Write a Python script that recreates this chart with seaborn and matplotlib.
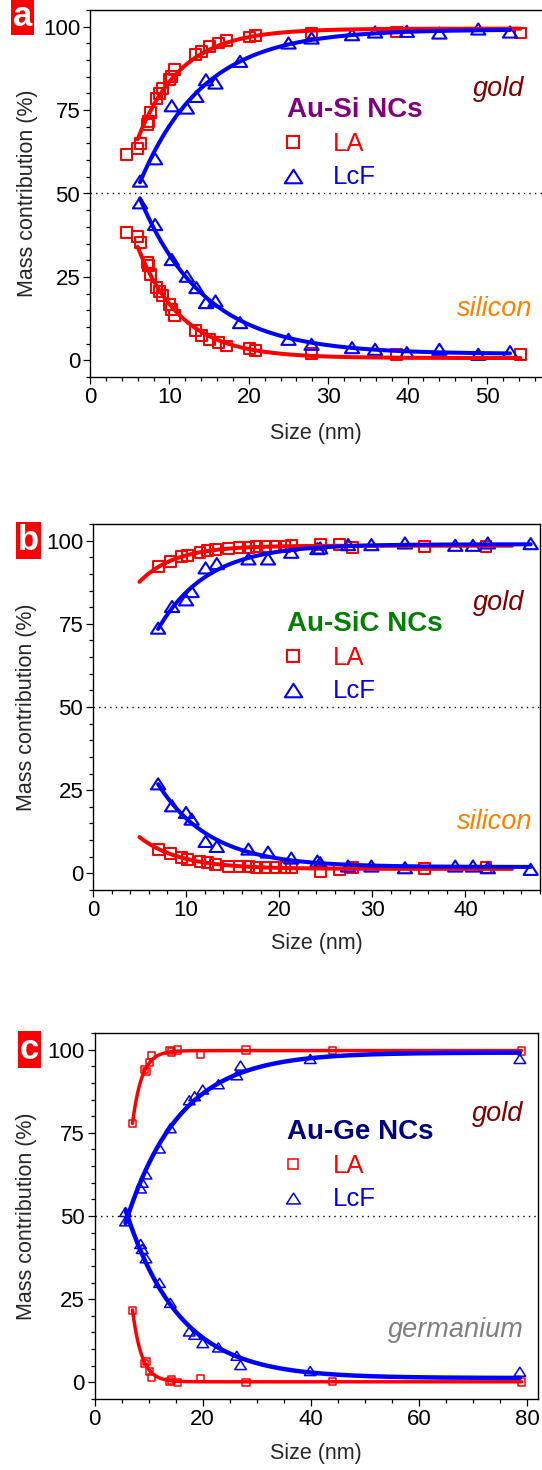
import numpy as np
import matplotlib
matplotlib.use("Agg")
import matplotlib.pyplot as plt
import seaborn as sns
from matplotlib.lines import Line2D
from matplotlib.path import Path
from matplotlib.ticker import MultipleLocator

# ---------------- data: Au-Si nanocrystals ----------------
si_la_size = [4.6, 6.0, 6.4, 7.2, 7.4, 7.6, 8.4, 8.8, 9.1, 10.0, 10.3, 10.7,
              13.3, 14.1, 15.0, 16.2, 17.2, 20.1, 20.8, 27.9, 38.6, 54.2]
si_la_gold = [61.7, 63.5, 65.0, 70.6, 71.6, 74.2, 78.6, 80.1, 81.6, 84.1, 85.1, 87.1,
              91.6, 92.6, 94.1, 95.1, 95.9, 96.9, 97.3, 98.1, 98.4, 98.1]
si_la_semi = [38.4, 37.2, 35.2, 29.4, 28.4, 25.7, 21.8, 20.5, 19.3, 16.8, 15.3, 13.3,
              8.8, 7.3, 6.1, 5.3, 4.3, 3.5, 3.0, 2.1, 1.8, 1.8]
si_lcf_size = [6.3, 8.2, 10.3, 12.2, 13.4, 14.6, 15.8, 18.9, 25.0, 27.9, 33.0, 35.9,
               39.9, 44.0, 48.9, 52.9]
si_lcf_gold = [53.7, 60.4, 76.3, 75.6, 79.1, 84.1, 83.1, 89.6, 95.1, 96.6, 97.6, 98.4,
               98.6, 98.1, 99.3, 98.4]
si_lcf_semi = [47.2, 40.7, 30.2, 25.2, 21.8, 17.3, 17.8, 11.3, 6.3, 4.8, 3.8, 3.3,
               2.3, 3.3, 1.8, 2.6]

# ---------------- data: Au-SiC nanocrystals ----------------
sic_la_size = [7.0, 8.3, 9.5, 10.2, 11.5, 12.3, 13.2, 14.6, 15.7, 16.7, 17.6, 18.5,
               19.6, 20.6, 21.3, 24.4, 26.5, 27.9, 35.6, 42.2]
sic_la_gold = [92.2, 93.8, 95.1, 95.5, 96.5, 97.0, 97.3, 97.6, 97.9, 98.0, 98.1, 98.3,
               98.3, 98.3, 98.4, 98.8, 98.8, 97.8, 98.3, 98.3]
sic_la_semi = [7.3, 5.9, 4.7, 4.2, 3.7, 3.2, 2.7, 2.2, 2.2, 2.2, 1.7, 1.7,
               1.7, 1.7, 1.7, 0.7, 1.2, 1.7, 1.5, 1.7]
sic_lcf_size = [7.0, 8.5, 10.0, 10.6, 12.1, 13.3, 16.7, 18.8, 21.3, 24.1, 24.4, 27.4,
                29.9, 33.5, 38.9, 40.8, 42.4, 47.0]
sic_lcf_gold = [73.7, 80.2, 82.2, 84.7, 91.8, 93.1, 94.5, 94.5, 96.5, 97.6, 97.8, 98.8,
                98.8, 99.3, 98.6, 98.6, 99.3, 99.1]
sic_lcf_semi = [26.9, 20.3, 18.3, 16.3, 9.6, 8.1, 7.3, 6.4, 4.6, 3.7, 3.2, 2.2,
                2.2, 1.7, 2.2, 2.2, 1.7, 1.2]

# ---------------- data: Au-Ge nanocrystals ----------------
ge_la_size = [7.0, 9.3, 9.6, 10.2, 10.5, 13.9, 14.3, 15.4, 19.5, 28.0, 44.0, 79.0]
ge_la_gold = [77.9, 94.0, 93.4, 96.2, 98.2, 99.7, 99.3, 99.9, 98.7, 99.9, 99.7, 99.6]
ge_la_semi = [21.7, 5.7, 6.4, 3.2, 1.5, 0.2, 0.7, 0.0, 1.2, 0.0, 0.2, 0.1]
ge_lcf_size = [5.7, 8.5, 8.8, 9.5, 12.0, 14.0, 17.5, 18.5, 20.0, 22.9, 26.3, 27.0, 39.9, 78.7]
ge_lcf_gold = [51.2, 58.3, 60.0, 62.5, 70.3, 76.4, 84.8, 86.0, 88.0, 89.6, 92.3, 95.2, 97.2, 97.2]
ge_lcf_semi = [48.4, 41.6, 40.1, 37.3, 29.9, 23.9, 15.3, 14.3, 11.8, 10.5, 8.0, 5.2, 3.4, 3.2]

# size span covered by each fitted curve (LA, LcF)
si_fit_span = [(6.0, 54.2), (6.3, 52.9)]
sic_fit_span = [(5.0, 45.0), (7.0, 47.0)]
ge_fit_span = [(7.0, 79.0), (5.7, 78.7)]

method_labels = ["LA", "LcF"]
y_ticks = [0, 25, 50, 75, 100]

# ---------------- style ----------------
sns.set_style("ticks")
plt.rcParams.update({
    "font.family": ["Liberation Sans", "DejaVu Sans"],
    "axes.linewidth": 1.0,
    "axes.edgecolor": "black",
    "xtick.direction": "out",
    "ytick.direction": "out",
    "xtick.major.size": 5.0,
    "ytick.major.size": 5.0,
    "xtick.minor.size": 2.8,
    "ytick.minor.size": 2.8,
    "xtick.major.width": 0.9,
    "ytick.major.width": 0.9,
    "xtick.minor.width": 0.9,
    "ytick.minor.width": 0.9,
    "xtick.major.pad": 2.5,
    "ytick.major.pad": 2.0,
    "xtick.labelsize": 16,
    "ytick.labelsize": 16,
    "xtick.color": "black",
    "ytick.color": "black",
})

RED = "#ff0000"
BLUE = "#0000ff"
tri = Path([(-1.0, -0.78), (1.0, -0.78), (0.0, 0.78), (-1.0, -0.78)], closed=True)

W, H = 542.0, 1470.0
fig = plt.figure(figsize=(W / 100, H / 100), dpi=100)


def fx(px):
    return px / W


def fy(py):
    return 1.0 - py / H


def exp_fit(x, y):
    """Least-squares fit of y = c + a*exp(-x/tau)."""
    x = np.asarray(x, float)
    y = np.asarray(y, float)
    best = None
    for tau in np.geomspace(0.2, 60.0, 3000):
        basis = np.column_stack([np.ones_like(x), np.exp(-x / tau)])
        coef = np.linalg.lstsq(basis, y, rcond=None)[0]
        err = float(np.sum((basis @ coef - y) ** 2))
        if best is None or err < best[0]:
            best = (err, tau, coef)
    _, tau, (c, a) = best
    return lambda t: c + a * np.exp(-t / tau)


panels = [
    dict(letter="a", rect=(90, 542.6, 10, 377), xlim=(0, 57), xmaj=10, xmin=2, xmax_tick=50,
         la=(si_la_size, si_la_gold, si_la_semi), lcf=(si_lcf_size, si_lcf_gold, si_lcf_semi),
         span=si_fit_span, title="Au-Si NCs", tcolor="#800080",
         semi="silicon", scolor="#ff8000", semi_pos=(457, 316), gold_pos=(473, 96),
         leg_pos=(287, 97), box=(12, -1), right_spine=False, xlab_y=434,
         msq=62, mtri=105, mew=1.5, lw=(2.9, 2.9), lms=(8.5, 12.5)),
    dict(letter="b", rect=(92.9, 540, 524, 890), xlim=(0, 48), xmaj=10, xmin=2, xmax_tick=40,
         la=(sic_la_size, sic_la_gold, sic_la_semi), lcf=(sic_lcf_size, sic_lcf_gold, sic_lcf_semi),
         span=sic_fit_span, title="Au-SiC NCs", tcolor="#008000",
         semi="silicon", scolor="#ff8000", semi_pos=(457, 829), gold_pos=(473, 610),
         leg_pos=(287, 611), box=(17, 523), right_spine=True, xlab_y=943,
         msq=62, mtri=105, mew=1.5, lw=(2.9, 2.9), lms=(8.5, 12.5)),
    dict(letter="c", rect=(94.7, 537.7, 1033, 1399), xlim=(0, 82), xmaj=20, xmin=5, xmax_tick=80,
         la=(ge_la_size, ge_la_gold, ge_la_semi), lcf=(ge_lcf_size, ge_lcf_gold, ge_lcf_semi),
         span=ge_fit_span, title="Au-Ge NCs", tcolor="#000080",
         semi="germanium", scolor="#808080", semi_pos=(388, 1337), gold_pos=(472, 1121),
         leg_pos=(287, 1119), box=(19, 1032), right_spine=True, xlab_y=1453,
         msq=26, mtri=70, mew=1.1, lw=(2.5, 3.2), lms=(6.5, 10)),
]

for p in panels:
    left, right, top, bottom = p["rect"]
    ax = fig.add_axes([fx(left), fy(bottom), (right - left) / W, (bottom - top) / H])
    ax.set_facecolor("white")

    ax.axhline(50, color="black", lw=1.0, ls=(0, (1, 3)), zorder=1)

    for (size, gold, semi), (x0, x1), color, marker, msize, lwid in zip(
            [p["la"], p["lcf"]], p["span"], [RED, BLUE], ["s", tri],
            [p["msq"], p["mtri"]], p["lw"]):
        for values in (gold, semi):
            sns.scatterplot(x=size, y=values, ax=ax, marker=marker, s=msize,
                            facecolor="none", edgecolor=color, linewidth=p["mew"],
                            legend=False, zorder=3)
            model = exp_fit(size, values)
            xx = np.linspace(x0, x1, 300)
            sns.lineplot(x=xx, y=model(xx), ax=ax, color=color, linewidth=lwid,
                         legend=False, zorder=4)

    ax.set_xlim(*p["xlim"])
    ax.set_ylim(-5, 105)
    ax.set_xticks(np.arange(0, p["xmax_tick"] + 1, p["xmaj"]))
    ax.xaxis.set_minor_locator(MultipleLocator(p["xmin"]))
    ax.set_yticks(y_ticks)
    ax.yaxis.set_minor_locator(MultipleLocator(5))
    ax.spines["right"].set_visible(p["right_spine"])
    ax.spines["top"].set_visible(True)

    ax.set_xlabel("Size (nm)", fontsize=15.5)
    ax.set_ylabel("Mass contribution (%)", fontsize=15.5)
    width_px = right - left
    height_px = bottom - top
    ax.yaxis.set_label_coords((27 - left) / width_px, 0.5)
    ax.yaxis.label.set_va("center")
    ax.xaxis.set_label_coords(0.5, -(p["xlab_y"] - bottom) / height_px)
    ax.xaxis.label.set_va("center")

    handles = [
        Line2D([], [], ls="none", marker="s", ms=p["lms"][0], mfc="none", mec=RED, mew=p["mew"]),
        Line2D([], [], ls="none", marker=tri, ms=p["lms"][1], mfc="none", mec=BLUE, mew=p["mew"]),
    ]
    leg = ax.legend(handles, method_labels, title=p["title"], loc="upper left",
                    bbox_to_anchor=(fx(p["leg_pos"][0]), fy(p["leg_pos"][1])),
                    bbox_transform=fig.transFigure, frameon=False,
                    prop={"size": 18.5}, title_fontproperties={"size": 20, "weight": "bold"},
                    alignment="left", handlelength=0.47, handletextpad=1.3,
                    labelspacing=0.36, borderpad=0, borderaxespad=0,
                    labelcolor=[RED, BLUE])
    leg.get_title().set_color(p["tcolor"])

    fig.text(fx(p["gold_pos"][0]), fy(p["gold_pos"][1]), "gold", fontsize=19.5,
             style="italic", color="#800000", ha="left", va="baseline")
    fig.text(fx(p["semi_pos"][0]), fy(p["semi_pos"][1]), p["semi"], fontsize=19.5,
             style="italic", color=p["scolor"], ha="left", va="baseline")

    fig.text(fx(p["box"][0] + 1), fy(p["box"][1] + 1), p["letter"], fontsize=25,
             weight="bold", color="white", ha="left", va="top",
             bbox=dict(boxstyle="square,pad=0.05", fc="#ff0000", ec="none"))

fig.savefig("out.png", dpi=100, facecolor="white")
